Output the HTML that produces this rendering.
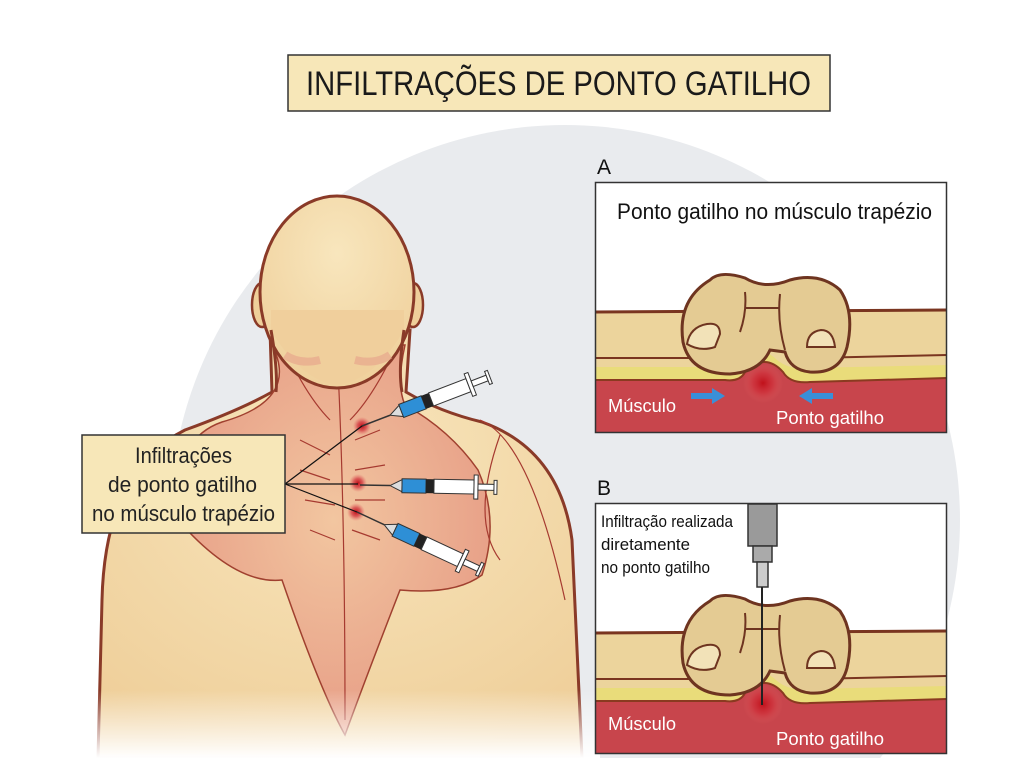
<!DOCTYPE html>
<html><head><meta charset="utf-8"><style>
html,body{margin:0;padding:0;background:#fff;overflow:hidden;width:1024px;height:758px;}
svg{display:block;}
text{font-family:"Liberation Sans",sans-serif;}
</style></head><body>
<svg width="1024" height="758" viewBox="0 0 1024 758" xmlns="http://www.w3.org/2000/svg">
<defs>
<radialGradient id="rp"><stop offset="0" stop-color="#c0101a"/><stop offset="0.5" stop-color="#d0303a" stop-opacity="0.7"/><stop offset="1" stop-color="#e06060" stop-opacity="0"/></radialGradient>
<radialGradient id="skinG" cx="0.5" cy="0.3" r="0.75"><stop offset="0" stop-color="#f8e6bd"/><stop offset="1" stop-color="#efcf9a"/></radialGradient>
<radialGradient id="trapG" cx="0.5" cy="0.45" r="0.6"><stop offset="0" stop-color="#f2c6a0"/><stop offset="1" stop-color="#e69a84"/></radialGradient>
<linearGradient id="fade" x1="0" y1="0" x2="0" y2="1"><stop offset="0" stop-color="#fff" stop-opacity="0"/><stop offset="1" stop-color="#fff" stop-opacity="1"/></linearGradient>
<g id="tissue">
 <rect x="0" y="0" width="352" height="251" fill="#fff"/>
 <path d="M0 130 L352 128 L352 251 L0 251 Z" fill="#ecd49c"/>
 <path d="M0 185 L135 185 Q150 185 160 178 Q170 165 182 178 Q195 188 210 186 L352 183 L352 251 L0 251 Z" fill="#e9dc7a"/>
 <path d="M0 198 L130 198 Q145 200 150 190 Q170 170 188 190 Q195 202 215 200 L352 196 L352 251 L0 251 Z" fill="#c8454c"/>
 <path d="M0 130 L352 128" stroke="#7a3520" stroke-width="3" fill="none"/>
 <path d="M0 176 L130 176 Q150 176 160 166 Q172 156 185 166 Q200 178 215 176 L352 173" stroke="#7a3520" stroke-width="2" fill="none"/>
 <path d="M0 198 L130 198 Q145 200 150 190 Q170 170 188 190 Q195 202 215 200 L352 196" stroke="#8a3a20" stroke-width="2" fill="none"/>
 <circle cx="168" cy="201" r="20" fill="url(#rp)"/>
 <path d="M115 98 Q125 88 150 96 Q170 108 195 98 Q225 90 245 108 Q260 130 252 165 Q245 192 215 190 Q195 188 190 170 L175 168 Q165 190 135 192 Q95 192 88 160 Q82 118 115 98 Z" fill="#e4cb93" stroke="#6e3420" stroke-width="3"/>
 <path d="M150 110 Q152 130 145 150 M185 112 Q182 140 190 168 M150 126 L185 126" stroke="#6e3420" stroke-width="2" fill="none"/>
 <path d="M92 162 Q95 145 112 142 Q125 140 125 152 L120 165 Q105 170 92 162 Z" fill="#f2e2b8" stroke="#6e3420" stroke-width="2"/>
 <path d="M212 165 Q212 150 226 148 Q238 148 240 165 Z" fill="#f2e2b8" stroke="#6e3420" stroke-width="2"/>
 <rect x="0.5" y="0.5" width="351" height="250" fill="none" stroke="#333" stroke-width="1.5"/>
</g>
</defs>
<rect width="1024" height="758" fill="#fff"/>
<circle cx="565" cy="520" r="395" fill="#e9ebee"/>
<rect x="288" y="55" width="542" height="56" fill="#f7e7b8" stroke="#333" stroke-width="1.5"/>
<text x="306" y="95" font-size="34" fill="#1a1a1a" textLength="505" lengthAdjust="spacingAndGlyphs">INFILTRAÇÕES DE PONTO GATILHO</text>

<path d="M98 758 L102 600 Q105 470 185 430 Q240 410 272 392 L270 330 L410 330 L406 392 Q440 412 482 422 Q560 450 572 540 L582 758 Z" fill="url(#skinG)" stroke="#8a3a28" stroke-width="3"/>
<path d="M272 345 Q300 400 222 422 Q170 440 178 520 Q235 585 282 580 Q320 690 345 735 Q365 680 400 590 Q455 595 482 575 Q500 520 478 470 Q450 430 405 405 Q396 385 405 345 Z" fill="url(#trapG)" stroke="#a0402f" stroke-width="1.5"/>
<path d="M337 350 Q345 500 345 720 M300 440 L330 455 M300 470 L330 480 M305 500 L335 505 M310 530 L335 540 M355 440 L380 430 M355 470 L385 465 M355 500 L385 500 M352 530 L380 540 M480 420 Q530 440 565 600 M500 435 Q470 520 500 560 M290 360 Q310 400 330 420 M390 360 Q370 400 350 420" stroke="#a63a30" stroke-width="1.2" fill="none"/>
<ellipse cx="262" cy="305" rx="10" ry="22" fill="#efcf9a" stroke="#8a3a28" stroke-width="2.5"/>
<ellipse cx="413" cy="305" rx="10" ry="22" fill="#efcf9a" stroke="#8a3a28" stroke-width="2.5"/>
<ellipse cx="337" cy="292" rx="77" ry="96" fill="url(#skinG)" stroke="#8a3a28" stroke-width="3"/>
<path d="M271 330 Q300 380 337 385 Q375 380 404 330 L404 310 L271 310 Z" fill="#f0cf9c"/>
<path d="M271 330 Q278 370 276 392 M404 330 Q398 370 402 392" stroke="#8a3a28" stroke-width="3" fill="none"/>
<path d="M285 355 Q300 365 320 360 M390 355 Q375 365 355 360" stroke="#e6a08a" stroke-width="8" fill="none" opacity="0.6"/>
<rect x="80" y="690" width="520" height="68" fill="url(#fade)"/>
<circle cx="362" cy="426" r="9" fill="url(#rp)"/>
<circle cx="358" cy="483" r="9" fill="url(#rp)"/>
<circle cx="356" cy="512" r="9" fill="url(#rp)"/>
<g transform="translate(362,426) rotate(-21)">
 <line x1="0" y1="0" x2="30" y2="0" stroke="#333" stroke-width="1.5"/>
 <path d="M30 0 L42 -6 L42 6 Z" fill="#ddd" stroke="#333"/>
 <rect x="42" y="-7" width="24" height="14" fill="#2e8fd6" stroke="#333"/>
 <rect x="66" y="-7" width="8" height="14" fill="#222"/>
 <rect x="74" y="-7" width="40" height="14" fill="#fff" stroke="#333"/>
 <rect x="114" y="-12" width="4" height="24" fill="#fff" stroke="#333"/>
 <rect x="118" y="-3" width="16" height="6" fill="#fff" stroke="#333"/>
 <rect x="134" y="-7" width="3" height="14" fill="#fff" stroke="#333"/>
</g>
<g transform="translate(360,485) rotate(1)">
 <line x1="0" y1="0" x2="30" y2="0" stroke="#333" stroke-width="1.5"/>
 <path d="M30 0 L42 -6 L42 6 Z" fill="#ddd" stroke="#333"/>
 <rect x="42" y="-7" width="24" height="14" fill="#2e8fd6" stroke="#333"/>
 <rect x="66" y="-7" width="8" height="14" fill="#222"/>
 <rect x="74" y="-7" width="40" height="14" fill="#fff" stroke="#333"/>
 <rect x="114" y="-12" width="4" height="24" fill="#fff" stroke="#333"/>
 <rect x="118" y="-3" width="16" height="6" fill="#fff" stroke="#333"/>
 <rect x="134" y="-7" width="3" height="14" fill="#fff" stroke="#333"/>
</g>
<g transform="translate(357,512) rotate(25)">
 <line x1="0" y1="0" x2="30" y2="0" stroke="#333" stroke-width="1.5"/>
 <path d="M30 0 L42 -6 L42 6 Z" fill="#ddd" stroke="#333"/>
 <rect x="42" y="-7" width="24" height="14" fill="#2e8fd6" stroke="#333"/>
 <rect x="66" y="-7" width="8" height="14" fill="#222"/>
 <rect x="74" y="-7" width="40" height="14" fill="#fff" stroke="#333"/>
 <rect x="114" y="-12" width="4" height="24" fill="#fff" stroke="#333"/>
 <rect x="118" y="-3" width="16" height="6" fill="#fff" stroke="#333"/>
 <rect x="134" y="-7" width="3" height="14" fill="#fff" stroke="#333"/>
</g>
<path d="M285 484 L362 426 M285 484 L358 484 M285 484 L357 512" stroke="#111" stroke-width="1.2" fill="none"/>
<rect x="82" y="435" width="203" height="98" fill="#f7e7b8" stroke="#333" stroke-width="1.5"/>
<g font-size="22" fill="#222">
<text x="135" y="463" textLength="97" lengthAdjust="spacingAndGlyphs">Infiltrações</text>
<text x="108" y="492" textLength="149" lengthAdjust="spacingAndGlyphs">de ponto gatilho</text>
<text x="92" y="521" textLength="183" lengthAdjust="spacingAndGlyphs">no músculo trapézio</text>
</g>

<text x="597" y="174" font-size="21" fill="#111">A</text>
<use href="#tissue" x="595" y="182"/>
<text x="617" y="219" font-size="22" fill="#111" textLength="315" lengthAdjust="spacingAndGlyphs">Ponto gatilho no músculo trapézio</text>
<path d="M691 393 L712 393 L712 388 L725 396 L712 404 L712 399 L691 399 Z" fill="#3a8fd8"/>
<path d="M833 393 L812 393 L812 388 L799 396 L812 404 L812 399 L833 399 Z" fill="#3a8fd8"/>
<text x="608" y="412" font-size="18" fill="#fff" textLength="68" lengthAdjust="spacingAndGlyphs">Músculo</text>
<text x="776" y="424" font-size="18" fill="#fff" textLength="108" lengthAdjust="spacingAndGlyphs">Ponto gatilho</text>

<text x="597" y="495" font-size="21" fill="#111">B</text>
<use href="#tissue" x="595" y="503"/>
<rect x="748" y="504" width="29" height="42" fill="#9a9a9a" stroke="#333" stroke-width="1.5"/>
<rect x="753" y="546" width="19" height="16" fill="#aaa" stroke="#333" stroke-width="1.5"/>
<rect x="757" y="562" width="11" height="25" fill="#ccc" stroke="#333" stroke-width="1.5"/>
<line x1="762" y1="587" x2="762" y2="705" stroke="#222" stroke-width="2"/>
<g font-size="17" fill="#111">
<text x="601" y="527" textLength="132" lengthAdjust="spacingAndGlyphs">Infiltração realizada</text>
<text x="601" y="550" textLength="89" lengthAdjust="spacingAndGlyphs">diretamente</text>
<text x="601" y="573" textLength="109" lengthAdjust="spacingAndGlyphs">no ponto gatilho</text>
</g>
<text x="608" y="730" font-size="18" fill="#fff" textLength="68" lengthAdjust="spacingAndGlyphs">Músculo</text>
<text x="776" y="745" font-size="18" fill="#fff" textLength="108" lengthAdjust="spacingAndGlyphs">Ponto gatilho</text>
</svg>
</body></html>
